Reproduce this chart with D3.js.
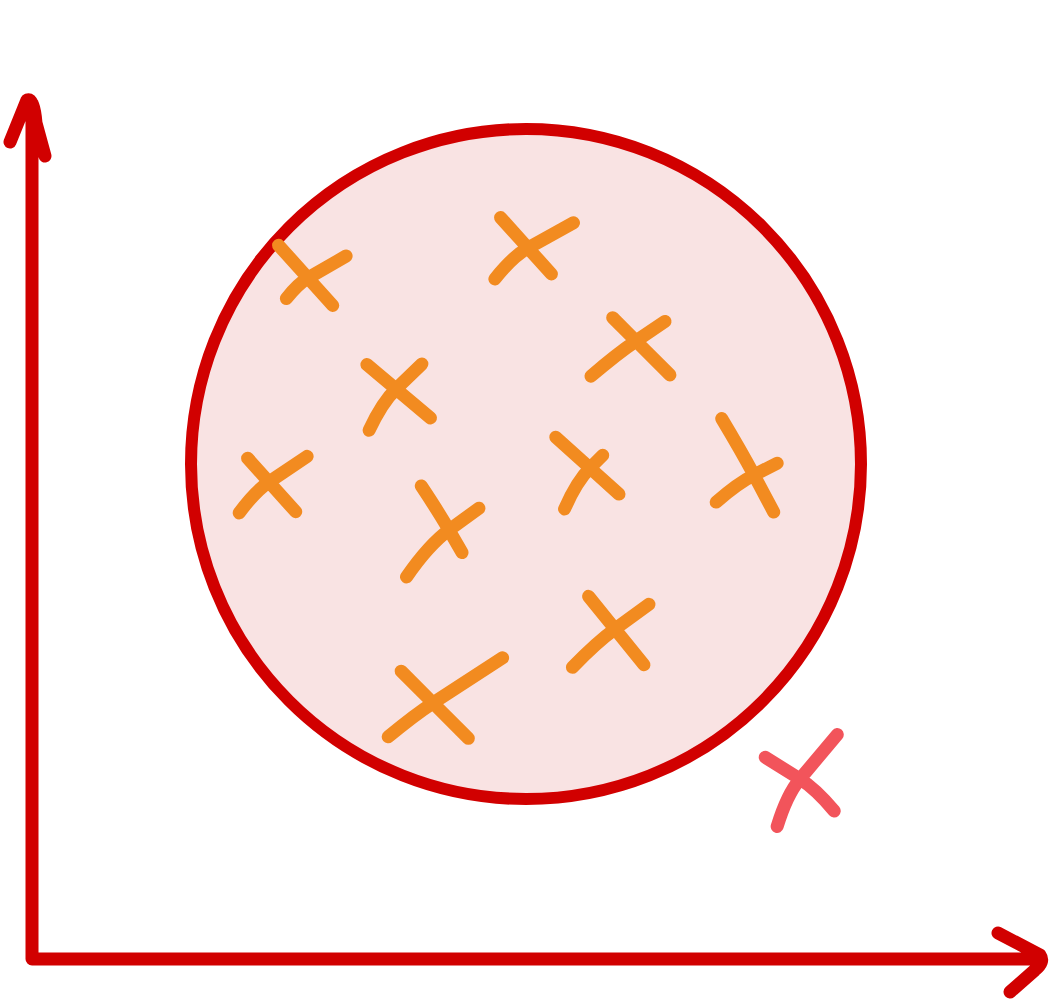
<!DOCTYPE html>
<html>
<head>
<meta charset="utf-8">
<script src="https://cdn.jsdelivr.net/npm/d3@7"></script>
<style>
  html, body { margin: 0; padding: 0; background: #fff; }
  svg { display: block; }
</style>
</head>
<body>
<svg id="chart"></svg>
<script>
// data: points inside the cluster, one outlier, cluster circle
const pointX = [2.76, 4.96, 6.04, 3.64, 2.37, 4.17, 5.58, 7.22, 5.83, 4.01];
const pointY = [6.81, 7.11, 6.18, 5.70, 4.77, 4.29, 4.91, 4.84, 3.30, 2.56];
const outlierX = [7.68];
const outlierY = [1.80];
const clusterCenter = [4.94, 4.95];
const clusterRadius = 3.35;

// hand drawn cross glyphs: [angle, back, forward, start hook, end hook] for each stroke
const glyphA = [[48,44,37,0,0],[48,41,35,0,0],[45,33,48,0,0],[40,38,45,0,0],[48,32,40,0,0],[60,52,26,2,0],[42,46,39,0,0],[62,65,42,2,0],[51,42,46,0,0],[45,45,50,0,0]];
const glyphB = [[-30,29,44,7,0],[-29,44,52,11,0],[-34,57,35,4,0],[-44,48,36,11,0],[-34,42,46,9,0],[-36,62,37,13,0],[-45,47,18,11,0],[-27,46,26,7,0],[-36,57,42,6,0],[-33,56,83,4,0]];
const outlierGlyphA = [[32,41,46,0,9]];
const outlierGlyphB = [[-50,51,58,13,0]];

async function Start() {
  const width = 1052;
  const height = 1000;

  const red = "#d10000";
  const orange = "#f28b20";
  const pink = "#f2545b";

  const x = d3.scaleLinear().domain([0, 10]).range([32, 1032]);
  const y = d3.scaleLinear().domain([0, 8.6]).range([959, 99]);

  const svg = d3
    .select("#chart")
    .attr("width", width)
    .attr("height", height)
    .attr("viewBox", [0, 0, width, height]);

  // 群集的圓
  svg
    .append("circle")
    .attr("cx", x(clusterCenter[0]))
    .attr("cy", y(clusterCenter[1]))
    .attr("r", x(clusterRadius) - x(0))
    .attr("fill", "#f9e3e3")
    .attr("stroke", red)
    .attr("stroke-width", 12);

  // 座標軸 (with sketchy arrow heads)
  const x0 = x(0), y0 = y(0);
  const top = y.range()[1];
  const right = x.range()[1];
  const axes = d3.path();
  axes.moveTo(x0, top + 4);
  axes.lineTo(x0, y0);
  axes.lineTo(right + 3, y0);
  // top arrow
  axes.moveTo(x0 - 22, top + 43);
  axes.lineTo(x0 - 5, top + 1);
  axes.quadraticCurveTo(x0 + 2, top - 1, x0 + 4, top + 24);
  axes.lineTo(x0 + 13, top + 57);
  // right arrow
  axes.moveTo(right - 34, y0 - 26);
  axes.lineTo(right + 8, y0 - 4);
  axes.quadraticCurveTo(right + 13, y0 + 3, right + 3, y0 + 11);
  axes.lineTo(right - 22, y0 + 33);

  svg
    .append("path")
    .attr("d", axes.toString())
    .attr("fill", "none")
    .attr("stroke", red)
    .attr("stroke-width", 13)
    .attr("stroke-linecap", "round")
    .attr("stroke-linejoin", "round");

  // one stroke of a cross: straight through the point, bent towards the ends
  function stroke(cx, cy, g) {
    const t = (g[0] * Math.PI) / 180;
    const dx = Math.cos(t), dy = Math.sin(t);
    const nx = dy, ny = -dx;
    const p = d3.path();
    p.moveTo(cx - dx * g[1] - nx * g[3], cy - dy * g[1] - ny * g[3]);
    p.quadraticCurveTo(cx - dx * g[1] * 0.4, cy - dy * g[1] * 0.4, cx, cy);
    p.quadraticCurveTo(
      cx + dx * g[2] * 0.4, cy + dy * g[2] * 0.4,
      cx + dx * g[2] - nx * g[4], cy + dy * g[2] - ny * g[4]
    );
    return p.toString();
  }

  const crossPath = (d) => stroke(x(d.x), y(d.y), d.a) + stroke(x(d.x), y(d.y), d.b);

  const points = pointX.map((v, i) => ({ x: v, y: pointY[i], a: glyphA[i], b: glyphB[i] }));
  const outliers = outlierX.map((v, i) => ({ x: v, y: outlierY[i], a: outlierGlyphA[i], b: outlierGlyphB[i] }));

  svg
    .append("g")
    .attr("fill", "none")
    .attr("stroke", orange)
    .attr("stroke-width", 13)
    .attr("stroke-linecap", "round")
    .attr("stroke-linejoin", "round")
    .selectAll("path")
    .data(points)
    .join("path")
    .attr("d", crossPath);

  svg
    .append("g")
    .attr("fill", "none")
    .attr("stroke", pink)
    .attr("stroke-width", 13)
    .attr("stroke-linecap", "round")
    .attr("stroke-linejoin", "round")
    .selectAll("path")
    .data(outliers)
    .join("path")
    .attr("d", crossPath);

  return svg.node();
}
Start();
</script>
</body>
</html>
